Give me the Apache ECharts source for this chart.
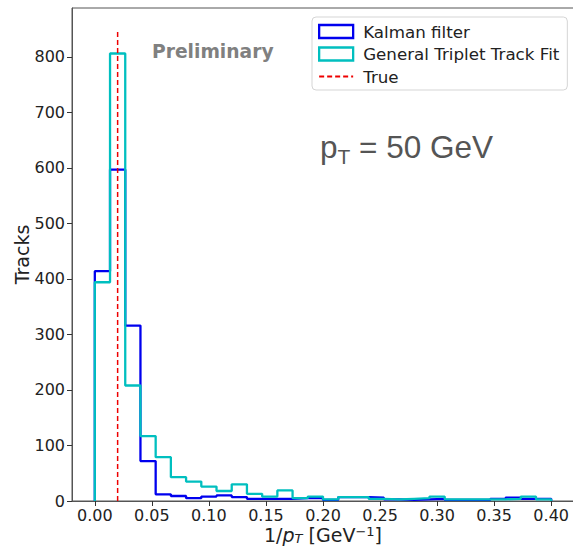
<!DOCTYPE html>
<html>
<head>
<meta charset="utf-8">
<script src="https://cdn.jsdelivr.net/npm/echarts@6/dist/echarts.min.js"></script>
<style>
html,body{margin:0;padding:0;background:#fff;}
#chart{width:573px;height:547px;}
</style>
</head>
<body>
<div id="chart"></div>
<script>
// ---- data ----
const binLow = 0.0;
const binHigh = 0.4;
const kalmanCounts = [414, 597, 316, 72, 12, 9, 5, 8, 10, 7, 4, 4, 4, 5, 5, 2, 7, 7, 6, 3, 2, 3, 4, 2, 2, 2, 4, 6, 4, 4];
const gttfCounts   = [394, 806, 208, 117, 79, 43, 35, 26, 18, 30, 13, 8, 19, 5, 8, 3, 7, 7, 4, 3, 4, 5, 8, 3, 3, 3, 3, 4, 8, 3];
const trueInvPt = 0.02;
const trueLineTop = 846;
const xTicks = [0.00, 0.05, 0.10, 0.15, 0.20, 0.25, 0.30, 0.35, 0.40];
const yTicks = [0, 100, 200, 300, 400, 500, 600, 700, 800];
const seriesNames = ['Kalman filter', 'General Triplet Track Fit', 'True'];

// build step outline points (matplotlib histtype='step')
function stepPoints(counts) {
  const n = counts.length;
  const w = (binHigh - binLow) / n;
  const pts = [[binLow, 0]];
  for (let i = 0; i < n; i++) pts.push([binLow + i * w, counts[i]]);
  pts.push([binHigh, counts[n - 1]]);
  pts.push([binHigh, 0]);
  return pts;
}

const chart = echarts.init(document.getElementById('chart'), null, {renderer: 'svg'});
const font = 'DejaVu Sans';
const option = {
  animation: false,
  backgroundColor: '#ffffff',
  grid: {left: 72, right: -1, top: 8, bottom: 46, show: true, borderColor: '#555', borderWidth: 1,
         containLabel: false, outerBoundsMode: 'none'},
  xAxis: {
    type: 'value', min: -0.02, max: 0.42,
    splitLine: {show: false},
    axisLine: {show: true, onZero: false, lineStyle: {color: '#555', width: 1}},
    axisTick: {show: true, length: 5, lineStyle: {color: '#333'}, customValues: xTicks},
    axisLabel: {customValues: xTicks, formatter: v => v.toFixed(2), fontFamily: font, fontSize: 16, color: '#222', margin: 6},
    name: '{a|1/}{i|p}{s|T}{a| [GeV}{u|−1}{a|]}',
    nameLocation: 'middle', nameGap: 24, nameMoveOverlap: false,
    nameTextStyle: {
      fontFamily: font, fontSize: 19, color: '#222', lineHeight: 20,
      rich: {
        a: {fontFamily: font, fontSize: 19, color: '#222', lineHeight: 20},
        i: {fontFamily: font, fontSize: 19, fontStyle: 'italic', color: '#222', lineHeight: 20},
        s: {fontFamily: font, fontSize: 13, fontStyle: 'italic', color: '#222', lineHeight: 13, padding: [7, 0, 0, 0]},
        u: {fontFamily: font, fontSize: 13, color: '#222', lineHeight: 13, padding: [0, 0, 7, 0]}
      }
    }
  },
  yAxis: {
    type: 'value', min: 0, max: 888,
    splitLine: {show: false},
    axisLine: {show: true, onZero: false, lineStyle: {color: '#555', width: 1}},
    axisTick: {show: true, length: 5, lineStyle: {color: '#333'}, customValues: yTicks},
    axisLabel: {customValues: yTicks, fontFamily: font, fontSize: 16, color: '#222', margin: 7},
    name: 'Tracks', nameLocation: 'middle', nameGap: 41, nameMoveOverlap: false,
    nameTextStyle: {fontFamily: font, fontSize: 19, color: '#222'}
  },
  legend: {
    left: 312, top: 17, orient: 'vertical',
    padding: [6, 8, 5, 6], itemGap: 5.5, itemWidth: 34, itemHeight: 13,
    backgroundColor: 'rgba(255,255,255,0.8)', borderColor: '#d5d5d5', borderWidth: 1, borderRadius: 4,
    textStyle: {fontFamily: font, fontSize: 16.7, color: '#222', lineHeight: 16, padding: [0, 0, 0, 5]},
    data: [
      {name: seriesNames[0], icon: 'rect', itemStyle: {color: 'rgba(0,0,0,0)', borderColor: '#0000ee', borderWidth: 2.3}},
      {name: seriesNames[1], icon: 'rect', itemStyle: {color: 'rgba(0,0,0,0)', borderColor: '#00bfbf', borderWidth: 2.3}},
      {name: seriesNames[2], itemStyle: {color: 'rgba(0,0,0,0)', borderWidth: 0, opacity: 0}}
    ]
  },
  graphic: [
    {type: 'text', left: 152, top: 42, style: {text: 'Preliminary', font: 'bold 18.7px "DejaVu Sans"', fill: '#808080'}},
    {type: 'text', left: 320, top: 131, style: {
      text: '{a|p}{s|T}{a| = 50 GeV}',
      rich: {
        a: {fontFamily: 'Liberation Sans', fontSize: 31.5, fill: '#555'},
        s: {fontFamily: 'Liberation Sans', fontSize: 21, fill: '#555', padding: [18, 0, 0, 0]}
      }
    }}
  ],
  series: [
    {name: seriesNames[0], type: 'line', step: 'end', symbol: 'none', data: stepPoints(kalmanCounts),
     lineStyle: {color: '#0000ee', width: 2.3}, itemStyle: {color: '#0000ee'}, z: 2},
    {name: seriesNames[1], type: 'line', step: 'end', symbol: 'none', data: stepPoints(gttfCounts),
     lineStyle: {color: '#00bfbf', width: 2.3}, itemStyle: {color: '#00bfbf'}, z: 3},
    {name: seriesNames[2], type: 'line', symbol: 'none', data: [[trueInvPt, 0], [trueInvPt, trueLineTop]],
     lineStyle: {color: '#ee0000', width: 1.5, type: [5, 3]}, itemStyle: {color: '#ee0000'}, z: 4}
  ]
};
chart.setOption(option);
</script>
</body>
</html>
